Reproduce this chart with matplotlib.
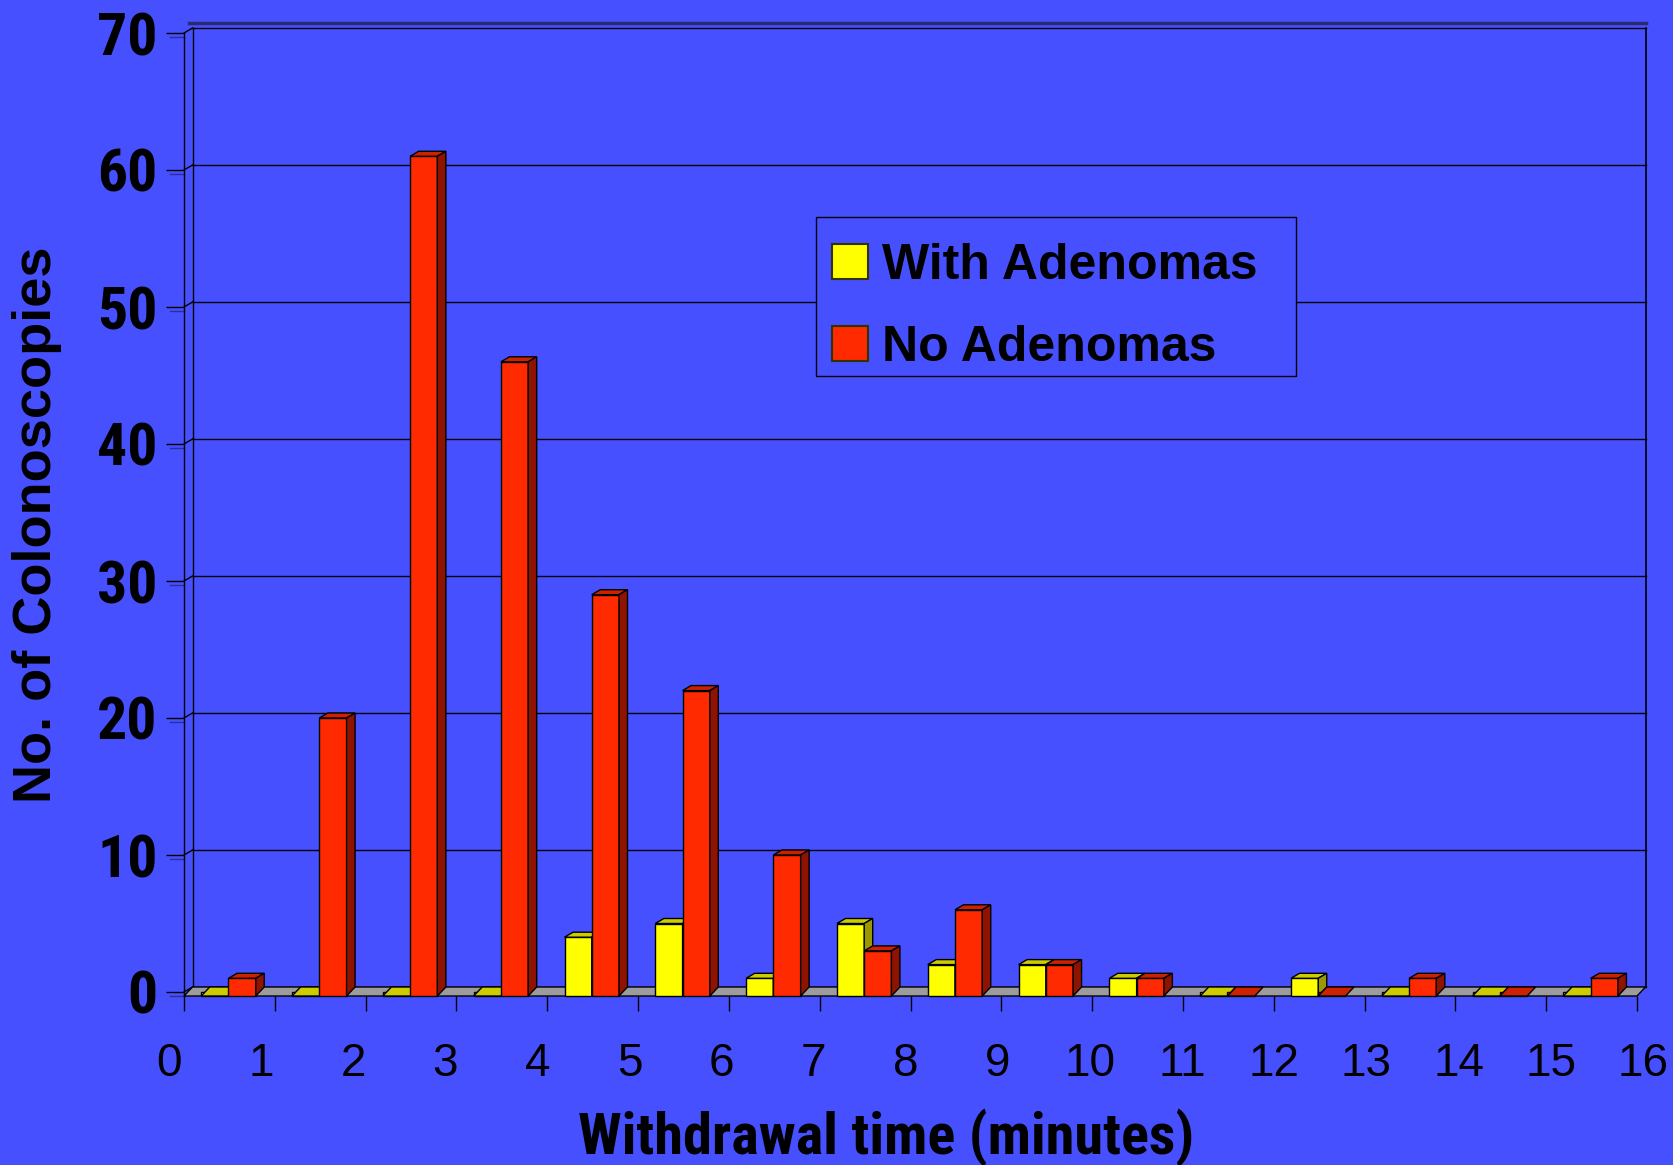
import matplotlib
matplotlib.use('Agg')
import matplotlib.pyplot as plt
from matplotlib.patches import Polygon, Rectangle, Patch
from matplotlib.transforms import ScaledTranslation
from matplotlib import font_manager as fm
import numpy as np

# ---- data ----
x_tick_labels = [str(i) for i in range(17)]
with_adenomas = [0, 0, 0, 0, 4, 5, 1, 5, 2, 2, 1, 0, 1, 0, 0, 0]
no_adenomas = [1, 20, 61, 46, 29, 22, 10, 3, 6, 2, 1, 0, 0, 1, 0, 1]
y_ticks = list(range(0, 71, 10))
series_names = ["With Adenomas", "No Adenomas"]

# ---- style ----
BG = '#4650FF'
front_colors = ['#FFFF00', '#FF2A00']
top_colors = ['#CCCC00', '#CC2200']
side_colors = ['#9A9A00', '#8E1300']

plt.rcParams['font.family'] = ['Liberation Sans', 'DejaVu Sans']

# look for a condensed sans family (for the narrow bold texts)
names = sorted({f.name for f in fm.fontManager.ttflist})
narrow = None
for pref in ['Liberation Sans Narrow', 'Arial Narrow', 'Roboto Condensed',
             'Open Sans Condensed', 'DejaVu Sans Condensed']:
    if pref in names:
        narrow = pref
        break
if narrow is None:
    cands = [n for n in names if ('Narrow' in n or 'Condensed' in n)]
    narrow = cands[0] if cands else None

W, H = 1673, 1165
fig = plt.figure(figsize=(W / 100, H / 100), dpi=100, facecolor=BG)
x0px, x1px = 184, 1637
y0px, y1px = 992, 33
ax = fig.add_axes([x0px / W, 1 - y0px / H, (x1px - x0px) / W, (y0px - y1px) / H])
ax.set_xlim(0, 16)
ax.set_ylim(0, 70)
ax.set_facecolor('none')
for s in ax.spines.values():
    s.set_visible(False)

xpu = (x1px - x0px) / 16
ypu = (y0px - y1px) / 70
dx = 8.5 / xpu
dy = 5 / ypu
base = -4 / ypu  # front edge of the floor

# back wall gridlines + left wall diagonals
for v in y_ticks:
    ax.plot([dx, 16 + dx], [v + dy, v + dy], color='black', lw=1, clip_on=False, zorder=1)
    ax.plot([0, dx], [v, v + dy], color='black', lw=1, clip_on=False, zorder=1)
    ax.plot([-0.15, 0], [v - 0.3, v - 0.3], color='#2a2f9a', lw=1, clip_on=False, zorder=1)
ax.plot([0, 0], [base, 70], color='black', lw=1, clip_on=False, zorder=1)
ax.plot([dx, dx], [dy, 70 + dy], color='black', lw=1, clip_on=False, zorder=1)
ax.plot([16 + dx, 16 + dx], [dy, 70 + dy], color='black', lw=1.2, clip_on=False, zorder=1)
ax.plot([dx * 0.6, 16 + dx], [70 + 2 * dy, 70 + 2 * dy], color='#2a2a70', lw=2.5,
        clip_on=False, zorder=1)

# floor
ax.add_patch(Polygon([(0, base), (16, base), (16 + dx, dy), (dx, dy)], closed=True,
                     facecolor='#9C9C9C', edgecolor='black', lw=1, zorder=2, clip_on=False))

# bars
xs = np.arange(len(with_adenomas))
offsets = [0.19, 0.49]
width = 0.3
for k, vals in enumerate([with_adenomas, no_adenomas]):
    z = 3 + k
    vals = np.asarray(vals, dtype=float)
    bars = ax.bar(xs + offsets[k], vals - base, bottom=base, width=width, align='edge',
                  color=front_colors[k], edgecolor='black', linewidth=1, zorder=z,
                  clip_on=False)
    for r in bars:
        bx, bw = r.get_x(), r.get_width()
        bh = r.get_y() + r.get_height()
        if bh > 0:
            top = [(bx, bh), (bx + bw, bh), (bx + bw + dx, bh + dy), (bx + dx, bh + dy)]
        else:
            top = [(bx, base), (bx + bw, base), (bx + bw + dx, dy), (bx + dx, dy)]
        ax.add_patch(Polygon(top, closed=True, facecolor=top_colors[k],
                             edgecolor='black', lw=1, zorder=z, clip_on=False))
        if bh > 0:
            side = [(bx + bw, base), (bx + bw + dx, dy), (bx + bw + dx, bh + dy), (bx + bw, bh)]
            ax.add_patch(Polygon(side, closed=True, facecolor=side_colors[k],
                                 edgecolor='black', lw=1, zorder=z, clip_on=False))

# ticks
ax.spines['bottom'].set_position(('data', base))
ax.set_xticks(range(17), x_tick_labels)
ax.tick_params(axis='x', length=11, width=1, color='black', direction='out',
               labelsize=33, pad=22)
for i, lab in enumerate(ax.get_xticklabels()):
    off = ScaledTranslation((-15 + i * 1.3) / 100, 0, fig.dpi_scale_trans)
    lab.set_transform(lab.get_transform() + off)
ax.set_yticks(y_ticks)
ax.tick_params(axis='y', length=13, width=1, color='black', direction='out', pad=6)
for lab in ax.get_yticklabels():
    lab.set_fontweight('bold')
    if narrow:
        lab.set_family([narrow, 'Liberation Sans'])
        lab.set_fontsize(43)
    else:
        lab.set_fontsize(42)

# axis labels
if narrow:
    xl_fam, xl_size = [narrow, 'Liberation Sans'], 42
else:
    xl_fam, xl_size = ['Liberation Sans', 'DejaVu Sans'], 36
fig.text(886 / W, 1 - 1138 / H, 'Withdrawal time (minutes)', ha='center', va='center',
         fontsize=xl_size, fontweight='bold', family=xl_fam)
fig.text(37 / W, 1 - 525 / H, 'No. of Colonoscopies', rotation=90, ha='center',
         va='center', fontsize=39, fontweight='bold')

# legend
fig.patches.append(Rectangle((816 / W, 1 - 376 / H), 480 / W, 159 / H,
                             transform=fig.transFigure, facecolor=BG,
                             edgecolor='black', lw=1, zorder=1))
handles = [Patch(facecolor=front_colors[k], edgecolor='#333300', lw=1.5) for k in range(2)]
fig.legend(handles, series_names, loc='upper left', bbox_to_anchor=(832 / W, 1 - 243 / H),
           frameon=False, prop={'weight': 'bold', 'size': 36}, handlelength=0.72,
           handleheight=0.72, handletextpad=0.28, labelspacing=0.72, borderpad=0,
           borderaxespad=0)

fig.savefig('out.png', dpi=100, facecolor=BG)
